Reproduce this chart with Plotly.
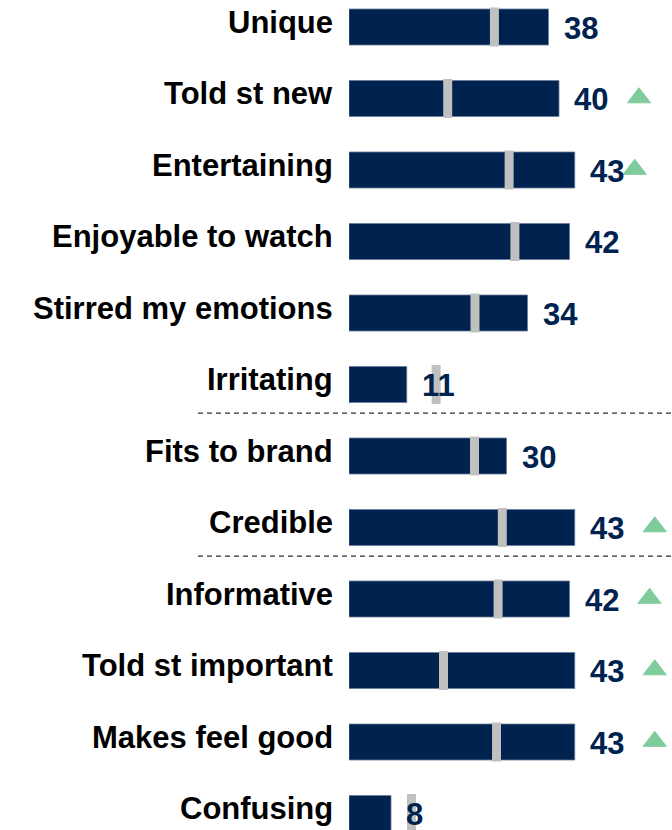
import plotly.graph_objects as go

# Ad evaluation items, scores and benchmark norms
categories = [
    "Unique", "Told st new", "Entertaining", "Enjoyable to watch",
    "Stirred my emotions", "Irritating", "Fits to brand", "Credible",
    "Informative", "Told st important", "Makes feel good", "Confusing",
]
scores = [38, 40, 43, 42, 34, 11, 30, 43, 42, 43, 43, 8]
norms = [27.7, 18.8, 30.5, 31.6, 24.0, 16.6, 23.9, 29.2, 28.4, 18.0, 28.1, 11.9]
sig_up = [False, True, True, False, False, False, False, True, True, True, True, False]
group_ends = [5, 7]  # last row of each block before a separator

NAVY = "#00224f"
GREY = "#c0c0c0"
GREEN = "#7fcb9c"
FONT = "Liberation Sans, Arial, sans-serif"

W, H = 672, 830
LEFT = 349
PX_PER_UNIT = 5.25
ROW_PX = 71.5
FIRST_ROW_PX = 27

rows = list(range(len(categories)))
x_max = (W - LEFT) / PX_PER_UNIT
y_top = -FIRST_ROW_PX / ROW_PX
y_bot = (H - FIRST_ROW_PX) / ROW_PX

fig = go.Figure()

# main score bars
fig.add_trace(go.Bar(
    y=rows, x=scores, orientation="h", width=36 / ROW_PX,
    marker=dict(color=NAVY, line=dict(color="#6a7c9a", width=0.8)),
    hoverinfo="skip", showlegend=False,
))

# benchmark ticks (thin grey bars centred on the norm value)
tick_w = 9 / PX_PER_UNIT
fig.add_trace(go.Bar(
    y=rows, x=[tick_w] * len(rows), base=[n - tick_w / 2 for n in norms],
    orientation="h", width=39 / ROW_PX,
    marker=dict(color=GREY, line=dict(width=0)),
    hoverinfo="skip", showlegend=False,
))

# significance triangles placed after the value label
tri_gap = {i: 80 / PX_PER_UNIT for i in rows}
tri_gap[2] = 60 / PX_PER_UNIT
tri_rows = [i for i in rows if sig_up[i]]
fig.add_trace(go.Scatter(
    x=[scores[i] + tri_gap[i] for i in tri_rows], y=[i - 0.01 for i in tri_rows],
    mode="markers",
    marker=dict(symbol="triangle-up", size=20, color=GREEN,
                line=dict(color=GREEN, width=1)),
    hoverinfo="skip", showlegend=False,
))

annotations = []
for i, (cat, val) in enumerate(zip(categories, scores)):
    annotations.append(dict(
        x=0, xref="paper", y=i, yref="y", text=f"<b>{cat}</b>",
        xanchor="right", yanchor="middle", xshift=-14, yshift=5,
        showarrow=False, font=dict(family=FONT, size=31, color="#000000"),
    ))
    annotations.append(dict(
        x=val, xref="x", y=i, yref="y", text=f"<b>{val}</b>",
        xanchor="left", yanchor="middle", xshift=13, yshift=-1,
        showarrow=False, font=dict(family=FONT, size=31, color=NAVY),
    ))

shapes = []
for g in group_ends:
    shapes.append(dict(
        type="line", xref="paper", x0=(198 - LEFT) / (W - LEFT), x1=1,
        yref="y", y0=g + 0.4, y1=g + 0.4,
        line=dict(color="#2e2e2e", width=1.3, dash="5px,4px"),
    ))

fig.update_layout(
    width=W, height=H,
    margin=dict(l=LEFT, r=0, t=0, b=0),
    paper_bgcolor="white", plot_bgcolor="white",
    barmode="overlay",
    xaxis=dict(range=[0, x_max], visible=False, fixedrange=True),
    yaxis=dict(range=[y_bot, y_top], visible=False, fixedrange=True),
    annotations=annotations, shapes=shapes,
)

fig.write_html("out.html", config={"displayModeBar": False})
